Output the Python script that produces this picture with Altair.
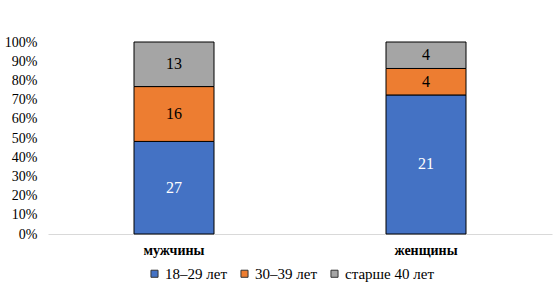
import altair as alt
import pandas as pd

groups = ["мужчины", "женщины"]
ages = ["18–29 лет", "30–39 лет", "старше 40 лет"]
men = [27, 16, 13]
women = [21, 4, 4]
colors = ["#4472C4", "#ED7D31", "#A5A5A5"]
label_colors = ["white", "black", "black"]
y_ticks = [0, 0.1, 0.2, 0.3, 0.4, 0.5, 0.6, 0.7, 0.8, 0.9, 1.0]

rows = []
for g, vals in zip(groups, [men, women]):
    for i, (a, v) in enumerate(zip(ages, vals)):
        rows.append({"group": g, "age": a, "value": v, "order": i, "tc": label_colors[i]})
df = pd.DataFrame(rows)

FONT = "Liberation Serif"

base = alt.Chart(df).transform_stack(
    stack="value", groupby=["group"], as_=["y0", "y1"], offset="normalize",
    sort=[alt.SortField("order")]
).transform_calculate(mid="(datum.y0 + datum.y1) / 2")

x_axis = alt.Axis(title=None, labelAngle=0, labelFont=FONT, labelFontSize=14,
                  labelFontWeight="bold", labelColor="black", ticks=False,
                  domainColor="#d9d9d9", domainWidth=1, labelPadding=9)
y_axis = alt.Axis(format=".0%", values=y_ticks, title=None, domain=False,
                  ticks=False, grid=False, labelFont=FONT, labelFontSize=14,
                  labelColor="black", labelPadding=11, labelOverlap=False,
                  labelBound=False, labelFlush=False)
x_scale = alt.Scale(paddingInner=0, paddingOuter=0)
y_scale = alt.Scale(domain=[0, 1])

bars = base.mark_bar(size=80, stroke="black", strokeWidth=1).encode(
    x=alt.X("group:N", sort=groups, scale=x_scale, axis=x_axis),
    y=alt.Y("y0:Q", scale=y_scale, axis=y_axis),
    y2="y1:Q",
    color=alt.Color("age:N", scale=alt.Scale(domain=ages, range=colors),
                    legend=alt.Legend(title=None, orient="none", direction="horizontal",
                                      legendX=99, legendY=224, symbolType="square",
                                      symbolSize=50, symbolStrokeColor="#333333",
                                      symbolStrokeWidth=1, labelFont=FONT,
                                      labelFontSize=15, labelColor="black",
                                      columnPadding=10, labelOffset=3)),
    order=alt.Order("order:Q"),
)

labels = base.mark_text(font=FONT, fontSize=16).encode(
    x=alt.X("group:N", sort=groups, scale=x_scale, axis=x_axis),
    y=alt.Y("mid:Q", scale=y_scale, axis=y_axis),
    text="value:Q",
    color=alt.Color("tc:N", scale=None),
)

chart = (bars + labels).properties(
    width=504, height=192, autosize="none",
    padding={"left": 48, "top": 42, "right": 1, "bottom": 52},
).configure_view(stroke=None)

chart.save("out.html", embed_options={"renderer": "svg", "actions": False})
